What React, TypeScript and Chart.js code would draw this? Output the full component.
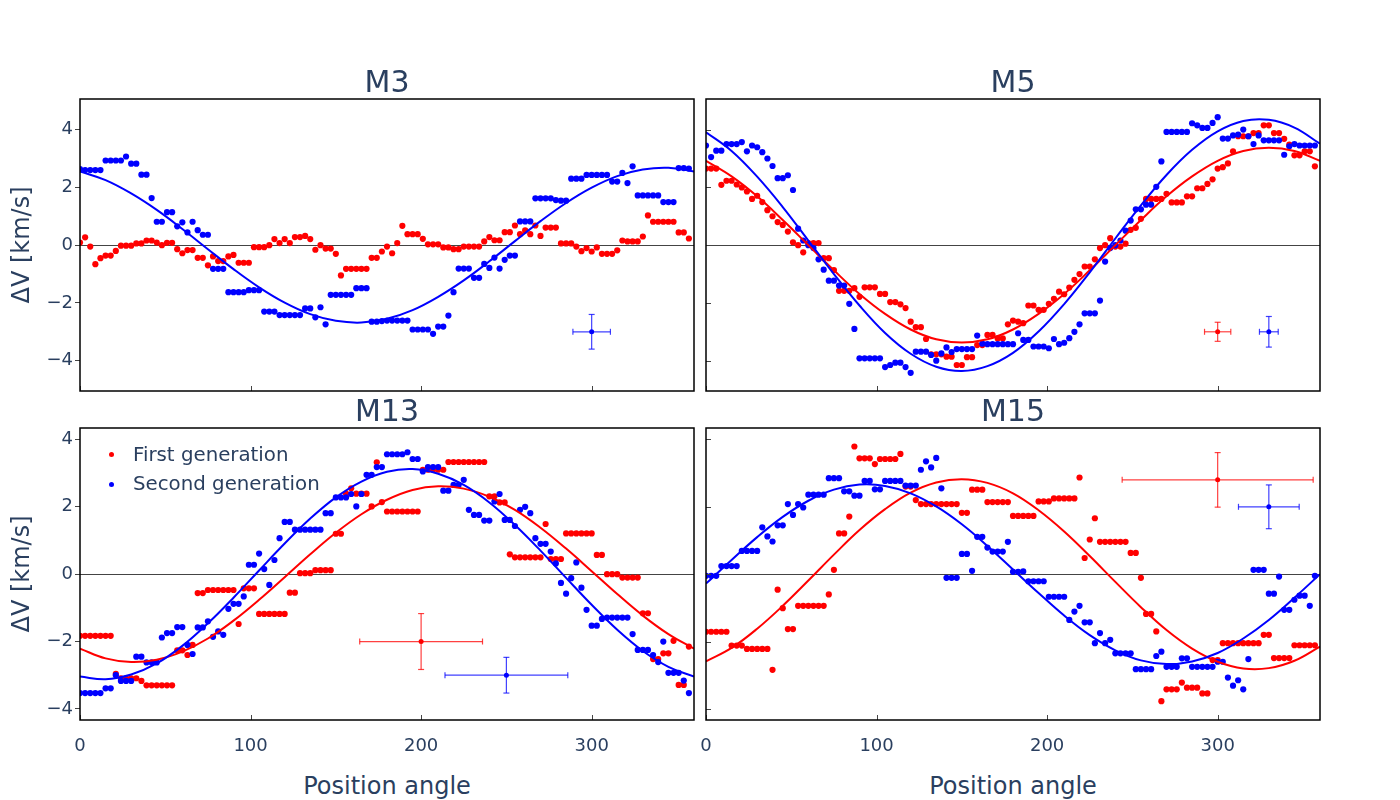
import { useEffect, useRef } from 'react';
import { Chart, registerables } from 'chart.js';

Chart.register(...registerables);

const FONT = '"DejaVu Sans", Verdana, sans-serif';
const INK = '#2a3f5f';
const RED = '#ff0000';
const BLUE = '#0000ff';

const xTicks = [0, 100, 200, 300];
const yTicks = [-4, -2, 0, 2, 4];

// position angles of the binned points (degrees)
const angles = [
  0, 3, 6, 9, 12, 15, 18, 21, 24, 27,
  30, 33, 36, 39, 42, 45, 48, 51, 54, 57,
  60, 63, 66, 69, 72, 75, 78, 81, 84, 87,
  90, 93, 96, 99, 102, 105, 108, 111, 114, 117,
  120, 123, 126, 129, 132, 135, 138, 141, 144, 147,
  150, 153, 156, 159, 162, 165, 168, 171, 174, 177,
  180, 183, 186, 189, 192, 195, 198, 201, 204, 207,
  210, 213, 216, 219, 222, 225, 228, 231, 234, 237,
  240, 243, 246, 249, 252, 255, 258, 261, 264, 267,
  270, 273, 276, 279, 282, 285, 288, 291, 294, 297,
  300, 303, 306, 309, 312, 315, 318, 321, 324, 327,
  330, 333, 336, 339, 342, 345, 348, 351, 354, 357,
];

// angles of the fitted curves
const fitAngles = [0, 15, 30, 45, 60, 75, 90, 105, 120, 135, 150, 165, 180, 195, 210, 225, 240, 255, 270, 285, 300, 315, 330, 345, 360];

// M3
const m3First = [
  0.09, 0.27, -0.05, -0.66, -0.45, -0.36, -0.36, -0.2, -0.02, -0.02,
  -0.02, 0.06, 0.06, 0.16, 0.16, 0.09, 0.0, 0.08, 0.08, -0.14,
  -0.28, -0.17, -0.17, -0.44, -0.44, -0.7, -0.39, -0.55, -0.55, -0.39,
  -0.34, -0.61, -0.61, -0.61, -0.07, -0.07, -0.07, 0.0, 0.21, 0.07,
  0.21, 0.07, 0.28, 0.28, 0.32, 0.21, -0.16, 0.0, -0.12, -0.12,
  -0.3, -1.05, -0.82, -0.82, -0.82, -0.82, -0.82, -0.44, -0.44, -0.22,
  -0.05, -0.28, 0.07, 0.67, 0.38, 0.38, 0.38, 0.22, 0.03, 0.03,
  0.03, -0.08, -0.08, -0.14, -0.14, -0.05, -0.05, -0.05, -0.05, 0.13,
  0.28, 0.17, 0.17, 0.45, 0.45, 0.68, 0.38, 0.51, 0.38, 0.68,
  0.32, 0.61, 0.61, 0.61, 0.06, 0.06, 0.06, -0.05, -0.21, -0.1,
  -0.22, -0.08, -0.3, -0.3, -0.3, -0.18, 0.16, 0.13, 0.13, 0.13,
  0.3, 1.03, 0.81, 0.81, 0.81, 0.81, 0.81, 0.44, 0.44, 0.23,
];
const m3Second = [
  2.63, 2.6, 2.6, 2.6, 2.6, 2.93, 2.93, 2.93, 2.93, 3.07,
  2.82, 2.82, 2.44, 2.44, 1.63, 0.81, 0.81, 1.14, 1.14, 0.65,
  0.79, 0.44, 0.81, 0.52, 0.36, 0.36, -0.82, -0.82, -0.82, -1.63,
  -1.63, -1.63, -1.63, -1.56, -1.56, -1.56, -2.3, -2.3, -2.3, -2.42,
  -2.42, -2.42, -2.42, -2.42, -2.19, -2.19, -2.5, -2.15, -2.74, -1.72,
  -1.72, -1.72, -1.72, -1.72, -1.49, -1.49, -1.49, -2.65, -2.65, -2.63,
  -2.61, -2.61, -2.61, -2.61, -2.61, -2.92, -2.92, -2.92, -2.92, -3.07,
  -2.82, -2.82, -2.44, -1.63, -0.81, -0.81, -0.81, -1.13, -1.13, -0.65,
  -0.79, -0.43, -0.81, -0.51, -0.36, -0.36, 0.82, 0.82, 0.82, 1.62,
  1.62, 1.62, 1.62, 1.56, 1.54, 1.54, 2.3, 2.3, 2.3, 2.43,
  2.43, 2.43, 2.43, 2.43, 2.2, 2.2, 2.5, 2.15, 2.73, 1.72,
  1.72, 1.72, 1.72, 1.72, 1.49, 1.49, 1.49, 2.67, 2.67, 2.65,
];
const m3SecondFit = [2.55, 2.25, 1.79, 1.22, 0.56, -0.14, -0.83, -1.46, -1.99, -2.39, -2.62, -2.68, -2.55, -2.25, -1.79, -1.22, -0.56, 0.14, 0.83, 1.46, 1.99, 2.39, 2.62, 2.68, 2.55];
const m3SecondError = [300, -3, 11, 0.6];

// M5
const m5First = [
  2.65, 2.65, 2.65, 2.09, 2.23, 2.23, 2.1, 2.0, 1.86, 1.6,
  1.71, 1.49, 1.21, 1.0, 0.8, 0.7, 0.47, 0.1, 0, -0.25,
  0.07, 0.07, 0.07, -0.45, -0.45, -0.86, -1.58, -1.58, -1.58, -1.49,
  -1.79, -1.46, -1.46, -1.46, -1.69, -1.69, -1.97, -1.97, -2.05, -2.18,
  -2.65, -2.84, -2.84, -3.25, -3.78, -3.78, -3.78, -3.86, -3.86, -4.15,
  -4.15, -3.88, -3.88, -3.46, -3.46, -3.11, -3.11, -3.23, -3.23, -2.74,
  -2.61, -2.65, -2.7, -2.09, -2.09, -2.24, -2.24, -2.03, -1.86, -1.61,
  -1.7, -1.47, -1.2, -1.0, -0.74, -0.74, -0.49, -0.1, 0, 0.24,
  -0.05, -0.05, 0.05, 0.53, 0.6, 0.91, 1.6, 1.6, 1.6, 1.6,
  1.78, 1.48, 1.48, 1.48, 1.69, 1.69, 1.97, 1.97, 2.12, 2.28,
  2.65, 2.7, 2.83, 3.25, 3.77, 3.77, 3.77, 3.88, 3.88, 4.15,
  4.15, 3.88, 3.88, 3.68, 3.48, 3.11, 3.11, 3.25, 3.25, 2.73,
];
const m5Second = [
  3.45, 3.05, 3.27, 3.27, 3.5, 3.5, 3.5, 3.57, 3.25, 3.45,
  3.39, 3.22, 3.0, 2.74, 2.32, 2.32, 2.42, 1.91, 0.57, 0.16,
  0, -0.1, -0.49, -0.85, -1.23, -1.23, -1.4, -1.4, -2.03, -2.9,
  -3.92, -3.92, -3.92, -3.92, -3.92, -4.22, -4.15, -4.07, -4.07, -4.22,
  -4.42, -3.69, -3.69, -3.69, -3.8, -4.0, -3.75, -3.54, -3.7, -3.6,
  -3.6, -3.6, -3.6, -3.13, -3.41, -3.43, -3.43, -3.43, -3.43, -3.43,
  -3.43, -3.05, -3.28, -3.28, -3.51, -3.51, -3.51, -3.57, -3.25, -3.43,
  -3.38, -3.22, -3.0, -2.74, -2.36, -2.36, -2.36, -1.92, -0.57, -0.1,
  0, 0.16, 0.5, 0.85, 1.24, 1.24, 1.4, 1.4, 2.02, 2.9,
  3.92, 3.92, 3.92, 3.92, 3.92, 4.22, 4.15, 4.06, 4.06, 4.23,
  4.43, 3.69, 3.69, 3.8, 3.83, 4.0, 3.77, 3.5, 3.8, 3.63,
  3.63, 3.63, 3.63, 3.13, 3.42, 3.5, 3.45, 3.45, 3.45, 3.45,
];
const m5FirstFit = [2.92, 2.38, 1.69, 0.87, 0, -0.87, -1.69, -2.38, -2.92, -3.26, -3.37, -3.26, -2.92, -2.38, -1.69, -0.87, 0, 0.87, 1.69, 2.38, 2.92, 3.26, 3.37, 3.26, 2.92];
const m5SecondFit = [3.91, 3.26, 2.37, 1.32, 0.16, -1.0, -2.09, -3.04, -3.76, -4.21, -4.36, -4.19, -3.73, -2.99, -2.04, -0.94, 0.23, 1.38, 2.43, 3.3, 3.94, 4.3, 4.34, 4.07, 3.51];
const m5FirstError = [300, -3, 7.7, 0.33];
const m5SecondError = [330, -3, 5.5, 0.53];

// M13
const m13First = [
  -1.83, -1.83, -1.83, -1.83, -1.83, -1.83, -1.83, -2.96, -3.09, -3.09,
  -3.09, -3.09, -3.17, -3.3, -3.3, -3.3, -3.3, -3.3, -3.3, -2.26,
  -2.26, -2.4, -2.1, -0.56, -0.56, -0.47, -0.47, -0.47, -0.47, -0.47,
  -0.47, -1.48, -0.42, -0.42, -0.42, -1.18, -1.18, -1.18, -1.18, -1.18,
  -1.18, -0.55, -0.55, 0.03, 0.03, 0.03, 0.12, 0.12, 0.12, 0.12,
  1.2, 1.2, 2.39, 2.55, 2.39, 2.39, 2.39, 2.01, 3.32, 2.14,
  1.86, 1.86, 1.86, 1.86, 1.86, 1.86, 1.86, 3.1, 3.1, 3.1,
  3.1, 3.1, 3.33, 3.33, 3.33, 3.33, 3.33, 3.33, 3.33, 3.33,
  2.31, 2.31, 2.13, 2.13, 0.59, 0.5, 0.5, 0.5, 0.5, 0.5,
  0.5, 1.49, 0.45, 0.45, 0.45, 1.21, 1.21, 1.21, 1.21, 1.21,
  1.21, 0.57, 0.57, 0, 0, 0, -0.1, -0.1, -0.1, -0.1,
  -1.16, -1.16, -2.52, -2.52, -2.35, -2.35, -1.98, -3.29, -3.29, -2.15,
];
const m13Second = [
  -3.53, -3.53, -3.53, -3.53, -3.53, -3.39, -3.39, -3.0, -3.17, -3.17,
  -3.17, -2.45, -2.45, -2.62, -2.62, -2.62, -1.88, -1.75, -1.75, -1.57,
  -1.57, -2.1, -2.37, -1.58, -1.58, -1.4, -1.86, -1.7, -1.8, -1.03,
  -0.88, -0.88, -0.66, 0.28, 0.28, 0.61, 0.15, -0.32, 0.42, 1.07,
  1.55, 1.55, 1.32, 1.32, 1.32, 1.32, 1.32, 1.32, 1.81, 1.81,
  2.28, 2.28, 2.28, 2.38, 2.01, 2.38, 2.95, 2.95, 3.18, 3.18,
  3.56, 3.56, 3.56, 3.56, 3.62, 3.42, 3.42, 3.05, 3.18, 3.18,
  3.18, 2.48, 2.48, 2.65, 2.65, 2.8, 1.91, 1.76, 1.76, 1.59,
  1.59, 2.16, 2.38, 1.61, 1.61, 1.43, 1.91, 2.0, 1.81, 1.07,
  0.9, 0.9, 0.67, 0.32, -0.26, -0.58, -0.12, 0.35, -0.4, -1.06,
  -1.53, -1.53, -1.33, -1.29, -1.29, -1.29, -1.29, -1.29, -1.78, -2.25,
  -2.25, -2.25, -2.4, -2.61, -2.0, -2.93, -2.93, -2.93, -3.16, -3.53,
];
const m13FirstFit = [-2.21, -2.5, -2.61, -2.54, -2.3, -1.91, -1.38, -0.76, -0.09, 0.59, 1.23, 1.78, 2.21, 2.5, 2.61, 2.54, 2.3, 1.91, 1.38, 0.76, 0.09, -0.59, -1.23, -1.78, -2.21];
const m13SecondFit = [-3.04, -3.12, -2.98, -2.65, -2.13, -1.46, -0.7, 0.11, 0.91, 1.65, 2.28, 2.75, 3.04, 3.12, 2.98, 2.65, 2.13, 1.46, 0.7, -0.11, -0.91, -1.65, -2.28, -2.75, -3.04];
const m13FirstError = [200, -2, 36, 0.83];
const m13SecondError = [250, -3, 36, 0.53];

// M15
const m15First = [
  -1.71, -1.71, -1.71, -1.71, -1.71, -2.12, -2.12, -2.12, -2.22, -2.22,
  -2.22, -2.22, -2.22, -2.84, -0.46, -1.01, -1.63, -1.63, -0.94, -0.94,
  -0.94, -0.94, -0.94, -0.94, -0.6, 0.13, 1.21, 1.21, 1.71, 3.79,
  3.44, 3.44, 3.44, 3.27, 3.42, 3.42, 3.42, 3.42, 3.57, 2.6,
  2.6, 2.2, 2.08, 2.08, 2.08, 2.08, 2.08, 2.08, 2.08, 2.08,
  1.82, 1.82, 2.51, 2.51, 2.51, 2.14, 2.14, 2.14, 2.14, 2.14,
  1.73, 1.73, 1.73, 1.73, 1.73, 2.16, 2.16, 2.16, 2.25, 2.25,
  2.25, 2.25, 2.25, 2.87, 0.48, 1.03, 1.66, 0.96, 0.96, 0.96,
  0.96, 0.96, 0.96, 0.63, 0.63, -0.11, -1.18, -1.18, -1.7, -3.77,
  -3.42, -3.42, -3.42, -3.22, -3.37, -3.37, -3.37, -3.54, -3.54, -2.55,
  -2.55, -2.05, -2.05, -2.05, -2.05, -2.05, -2.05, -2.05, -2.05, -1.8,
  -1.8, -2.49, -2.49, -2.49, -2.49, -2.11, -2.11, -2.11, -2.11, -2.11,
];
const m15Second = [
  -0.05, -0.05, -0.05, 0.24, 0.24, 0.24, 0.24, 0.69, 0.69, 0.69,
  0.69, 1.39, 1.12, 0.97, 1.45, 1.45, 2.08, 1.76, 2.08, 1.98,
  2.36, 2.36, 2.36, 2.36, 2.85, 2.85, 2.85, 2.46, 2.46, 2.33,
  2.33, 2.77, 2.77, 2.52, 2.52, 2.77, 2.77, 2.77, 2.77, 2.63,
  2.63, 2.63, 3.1, 3.35, 3.17, 3.45, 2.55, -0.11, -0.11, -0.11,
  0.6, 0.6, 0.1, 1.11, 1.11, 0.79, 0.67, 0.67, 0.67, 0.96,
  0.07, 0.07, 0.08, -0.21, -0.21, -0.21, -0.21, -0.67, -0.67, -0.67,
  -0.67, -1.36, -1.11, -0.94, -1.43, -1.43, -2.05, -1.75, -2.05, -1.95,
  -2.35, -2.35, -2.35, -2.35, -2.82, -2.82, -2.82, -2.82, -2.43, -2.3,
  -2.75, -2.75, -2.75, -2.5, -2.5, -2.75, -2.75, -2.75, -2.75, -2.75,
  -2.6, -2.6, -3.07, -3.31, -3.15, -3.42, -2.52, 0.13, 0.13, 0.13,
  -0.58, -0.58, -0.07, -1.06, -1.06, -0.76, -0.64, -0.64, -0.94, -0.05,
];
const m15FirstFit = [-2.59, -2.19, -1.62, -0.94, -0.19, 0.58, 1.31, 1.93, 2.42, 2.72, 2.82, 2.71, 2.4, 1.9, 1.27, 0.54, -0.23, -0.98, -1.66, -2.21, -2.6, -2.8, -2.79, -2.57, -2.15];
const m15SecondFit = [-0.28, 0.42, 1.1, 1.7, 2.18, 2.51, 2.66, 2.62, 2.4, 2.01, 1.48, 0.84, 0.14, -0.56, -1.23, -1.81, -2.26, -2.56, -2.67, -2.59, -2.34, -1.91, -1.36, -0.7, 0.0];
const m15FirstError = [300, 2.8, 56, 0.81];
const m15SecondError = [330, 2, 17.8, 0.65];

type PanelProps = {
  plotLeft: number;
  plotTop: number;
  plotRight: number;
  plotBottom: number;
  yMin: number;
  yMax: number;
  xLabels: boolean;
  yLabels: boolean;
  first: number[];
  second: number[];
  firstFit?: number[];
  secondFit?: number[];
  firstError?: number[];
  secondError?: number[];
};

const toPoints = (xs: number[], ys: number[]) => xs.map((x, i) => ({ x, y: ys[i] }));

function errorBar(e: number[], color: string, line: string) {
  const [cx, cy, dx, dy] = e;
  const seg = {
    showLine: true,
    borderColor: line,
    borderWidth: 1.2,
    pointStyle: 'line',
    pointRadius: 3,
    pointBorderColor: line,
    pointBorderWidth: 1.2,
    pointHoverRadius: 0,
  };
  return [
    { ...seg, data: [{ x: cx - dx, y: cy }, { x: cx + dx, y: cy }], pointRotation: 90 },
    { ...seg, data: [{ x: cx, y: cy - dy }, { x: cx, y: cy + dy }], pointRotation: 0 },
    { data: [{ x: cx, y: cy }], pointRadius: 2.5, pointBackgroundColor: color, pointBorderWidth: 0 },
  ];
}

function fitLine(ys: number[], color: string) {
  return {
    data: toPoints(fitAngles, ys),
    showLine: true,
    borderColor: color,
    borderWidth: 2,
    pointRadius: 0,
    tension: 0.4,
  };
}

function scatter(ys: number[], color: string) {
  return {
    data: toPoints(angles, ys),
    showLine: false,
    pointRadius: 3.1,
    pointBackgroundColor: color,
    pointBorderWidth: 0,
  };
}

function framePlugin(innerYTicks: boolean) {
  return {
    id: 'frame',
    afterDraw(chart: any) {
      const { ctx, chartArea: a, scales } = chart;
      ctx.save();
      ctx.strokeStyle = '#444';
      ctx.lineWidth = 1;
      ctx.beginPath();
      for (const v of xTicks) {
        const px = Math.round(scales.x.getPixelForValue(v)) + 0.5;
        ctx.moveTo(px, a.bottom);
        ctx.lineTo(px, a.bottom - 5);
      }
      if (innerYTicks) {
        for (const v of yTicks) {
          const py = Math.round(scales.y.getPixelForValue(v)) + 0.5;
          ctx.moveTo(a.left, py);
          ctx.lineTo(a.left + 5, py);
        }
      }
      ctx.stroke();
      ctx.strokeStyle = '#000';
      ctx.lineWidth = 1.5;
      ctx.strokeRect(a.left, a.top, a.right - a.left, a.bottom - a.top);
      ctx.restore();
    },
  };
}

function Panel(p: PanelProps) {
  const canvasRef = useRef<HTMLCanvasElement>(null);
  const width = p.plotRight - p.plotLeft + 90;
  const height = p.plotBottom - p.plotTop + 50;

  useEffect(() => {
    if (!canvasRef.current) return;
    const datasets: any[] = [];
    if (p.firstError) datasets.push(...errorBar(p.firstError, RED, 'rgba(255,0,0,0.75)'));
    if (p.secondError) datasets.push(...errorBar(p.secondError, BLUE, 'rgba(0,0,255,0.75)'));
    if (p.secondFit) datasets.push(fitLine(p.secondFit, BLUE));
    if (p.firstFit) datasets.push(fitLine(p.firstFit, RED));
    datasets.push(scatter(p.second, BLUE));
    datasets.push(scatter(p.first, RED));

    const tickFont = { family: FONT, size: 18 };
    const chart = new Chart(canvasRef.current, {
      type: 'scatter',
      data: { datasets },
      options: {
        animation: false,
        responsive: false,
        maintainAspectRatio: false,
        events: [],
        layout: { padding: { top: 10, right: 10, bottom: 0, left: 0 } },
        plugins: { legend: { display: false }, tooltip: { enabled: false } },
        scales: {
          x: {
            type: 'linear',
            min: 0,
            max: 360,
            afterBuildTicks: (axis: any) => {
              axis.ticks = xTicks.map((value) => ({ value }));
            },
            afterFit: (axis: any) => {
              axis.height = 40;
              axis.paddingLeft = 0;
              axis.paddingRight = 0;
            },
            grid: { display: false },
            border: { display: false },
            ticks: { display: p.xLabels, padding: 8, color: INK, font: tickFont },
          },
          y: {
            type: 'linear',
            min: p.yMin,
            max: p.yMax,
            afterBuildTicks: (axis: any) => {
              axis.ticks = yTicks.map((value) => ({ value }));
            },
            afterFit: (axis: any) => {
              axis.width = 80;
              axis.paddingTop = 0;
              axis.paddingBottom = 0;
            },
            border: { display: false },
            grid: {
              color: (c: any) => (c.tick && c.tick.value === 0 ? '#444' : 'rgba(0,0,0,0)'),
              lineWidth: 1,
              drawTicks: p.yLabels,
              tickLength: 5,
              tickColor: '#444',
            },
            ticks: {
              display: p.yLabels,
              padding: 2,
              color: INK,
              font: tickFont,
              callback: (v: any) => {
                const n = Number(v);
                return n < 0 ? '\u2212' + Math.abs(n) : String(n);
              },
            },
          },
        },
      } as any,
      plugins: [framePlugin(!p.yLabels)],
    });
    return () => chart.destroy();
  }, []);

  return (
    <canvas
      ref={canvasRef}
      width={width}
      height={height}
      style={{ position: 'absolute', left: p.plotLeft - 80, top: p.plotTop - 10 }}
    />
  );
}

const textBase = { position: 'absolute' as const, fontFamily: FONT, color: INK, lineHeight: 1, whiteSpace: 'nowrap' as const };

function Title({ text, cx, top }: { text: string; cx: number; top: number }) {
  return <div style={{ ...textBase, left: cx - 100, width: 200, top, fontSize: 30, textAlign: 'center' }}>{text}</div>;
}

function XTitle({ cx }: { cx: number }) {
  return <div style={{ ...textBase, left: cx - 150, width: 300, top: 773.7, fontSize: 24, textAlign: 'center' }}>Position angle</div>;
}

function YTitle({ cy }: { cy: number }) {
  return (
    <div
      style={{
        ...textBase,
        left: 21 - 100,
        top: cy - 12,
        width: 200,
        height: 24,
        fontSize: 24,
        textAlign: 'center',
        transform: 'rotate(-90deg)',
      }}
    >
      ΔV [km/s]
    </div>
  );
}

function LegendRow({ color, label, dotY, textTop }: { color: string; label: string; dotY: number; textTop: number }) {
  return (
    <>
      <div style={{ position: 'absolute', left: 109.2, top: dotY - 2.5, width: 5, height: 5, borderRadius: '50%', background: color }} />
      <div style={{ ...textBase, left: 133, top: textTop, fontSize: 19.8 }}>{label}</div>
    </>
  );
}

export default function App() {
  return (
    <div style={{ position: 'absolute', left: 0, top: 0, width: 1400, height: 800, overflow: 'hidden', background: '#fff' }}>
      <Panel plotLeft={80} plotTop={99} plotRight={694} plotBottom={391} yMin={-5.05} yMax={5.06} xLabels={false} yLabels={true}
        first={m3First} second={m3Second} secondFit={m3SecondFit} secondError={m3SecondError} />
      <Panel plotLeft={706} plotTop={99} plotRight={1320} plotBottom={391} yMin={-5.05} yMax={5.06} xLabels={false} yLabels={false}
        first={m5First} second={m5Second} firstFit={m5FirstFit} secondFit={m5SecondFit} firstError={m5FirstError} secondError={m5SecondError} />
      <Panel plotLeft={80} plotTop={428} plotRight={694} plotBottom={720} yMin={-4.33} yMax={4.34} xLabels={true} yLabels={true}
        first={m13First} second={m13Second} firstFit={m13FirstFit} secondFit={m13SecondFit} firstError={m13FirstError} secondError={m13SecondError} />
      <Panel plotLeft={706} plotTop={428} plotRight={1320} plotBottom={720} yMin={-4.33} yMax={4.34} xLabels={true} yLabels={false}
        first={m15First} second={m15Second} firstFit={m15FirstFit} secondFit={m15SecondFit} firstError={m15FirstError} secondError={m15SecondError} />

      <Title text="M3" cx={387} top={66.9} />
      <Title text="M5" cx={1013} top={66.9} />
      <Title text="M13" cx={387} top={395.6} />
      <Title text="M15" cx={1013} top={395.6} />

      <XTitle cx={387} />
      <XTitle cx={1013} />
      <YTitle cy={245} />
      <YTitle cy={574} />

      <LegendRow color={RED} label="First generation" dotY={454.3} textTop={445} />
      <LegendRow color={BLUE} label="Second generation" dotY={484} textTop={474} />
    </div>
  );
}
